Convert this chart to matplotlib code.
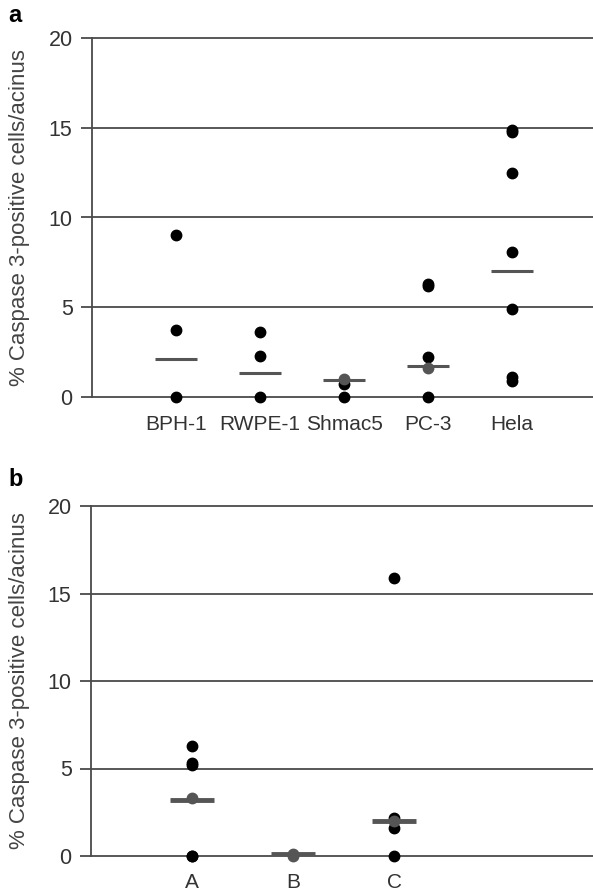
import matplotlib
matplotlib.use("Agg")
import matplotlib.pyplot as plt
import numpy as np

plt.rcParams['font.family'] = ['Liberation Sans', 'DejaVu Sans']

# ---- data: panel a ----
cats_a = ["BPH-1", "RWPE-1", "Shmac5", "PC-3", "Hela"]
vals_a = [
    [9.0, 3.75, 0.0],
    [3.6, 2.3, 0.0],
    [1.0, 0.75, 0.0],
    [6.3, 6.2, 2.25, 1.6, 0.0],
    [14.9, 14.75, 12.5, 8.1, 4.9, 1.1, 0.9],
]
means_a = [2.1, 1.35, 0.95, 1.75, 7.0]

# ---- data: panel b ----
cats_b = ["A", "B", "C"]
vals_b = [
    [6.3, 5.3, 5.2, 3.3, 0.0, 0.0],
    [0.1, 0.0],
    [15.9, 2.2, 1.6, 2.0, 0.0],
]
means_b = [3.2, 0.1, 2.0]

yticks = [0, 5, 10, 15, 20]
ylabel = "% Caspase 3-positive cells/acinus"

W, H = 593, 890
fig = plt.figure(figsize=(W / 100, H / 100), dpi=100)

grid_c = "#4a4a4a"
text_c = "#333333"


def panel(rect, cats, vals, means, xmax, half, mean_lw, label_pad):
    ax = fig.add_axes(rect)
    ax.set_xlim(0, xmax)
    ax.set_ylim(0, 20)
    for s in ["top", "right", "bottom"]:
        ax.spines[s].set_visible(False)
    ax.spines["left"].set_color(grid_c)
    ax.spines["left"].set_linewidth(1.3)
    for t in yticks:
        ax.axhline(t, color=grid_c, lw=1.3, zorder=1, clip_on=False)
    ax.set_yticks(yticks)
    ax.set_yticklabels([str(t) for t in yticks], fontsize=15.5, color=text_c)
    ax.tick_params(axis="y", direction="out", length=8, width=1.3,
                   color=grid_c, pad=6)
    pos = np.arange(1, len(cats) + 1)
    ax.set_xticks(pos)
    ax.set_xticklabels(cats, fontsize=15, color=text_c)
    ax.tick_params(axis="x", length=0, pad=label_pad)
    for p, v, m in zip(pos, vals, means):
        v = np.array(v)
        near = np.abs(v - m) < 0.18
        ax.plot(np.full(len(v[~near]), p), v[~near], "o", color="black",
                ms=7.5, zorder=3, clip_on=False)
        ax.plot(np.full(len(v[near]), p), v[near], "o", color="#555555",
                ms=7.5, zorder=3, clip_on=False)
        ax.plot([p - half, p + half], [m, m], color="#555555",
                lw=mean_lw, zorder=4, solid_capstyle="butt")
    ax.set_ylabel(ylabel, fontsize=16, color="#444444")
    return ax


ax_a = panel([92 / W, 1 - 397 / H, 1 - 92 / W, (397 - 38) / H],
             cats_a, vals_a, means_a, (593 - 92) / 84.0, 0.25, 2.2, 13)
ax_b = panel([91 / W, 1 - 856 / H, 1 - 91 / W, (856 - 506) / H],
             cats_b, vals_b, means_b, (593 - 91) / 101.0, 0.22, 3.5, 12)
ax_a.yaxis.set_label_coords(-62 / 501, 0.5)
ax_b.yaxis.set_label_coords(-61 / 502, 0.5)

fig.text(8 / W, 1 - 16 / H, "a", fontsize=17, fontweight="bold", va="center")
fig.text(8 / W, 1 - 479 / H, "b", fontsize=17, fontweight="bold", va="center")

fig.savefig("out.png", dpi=100)
